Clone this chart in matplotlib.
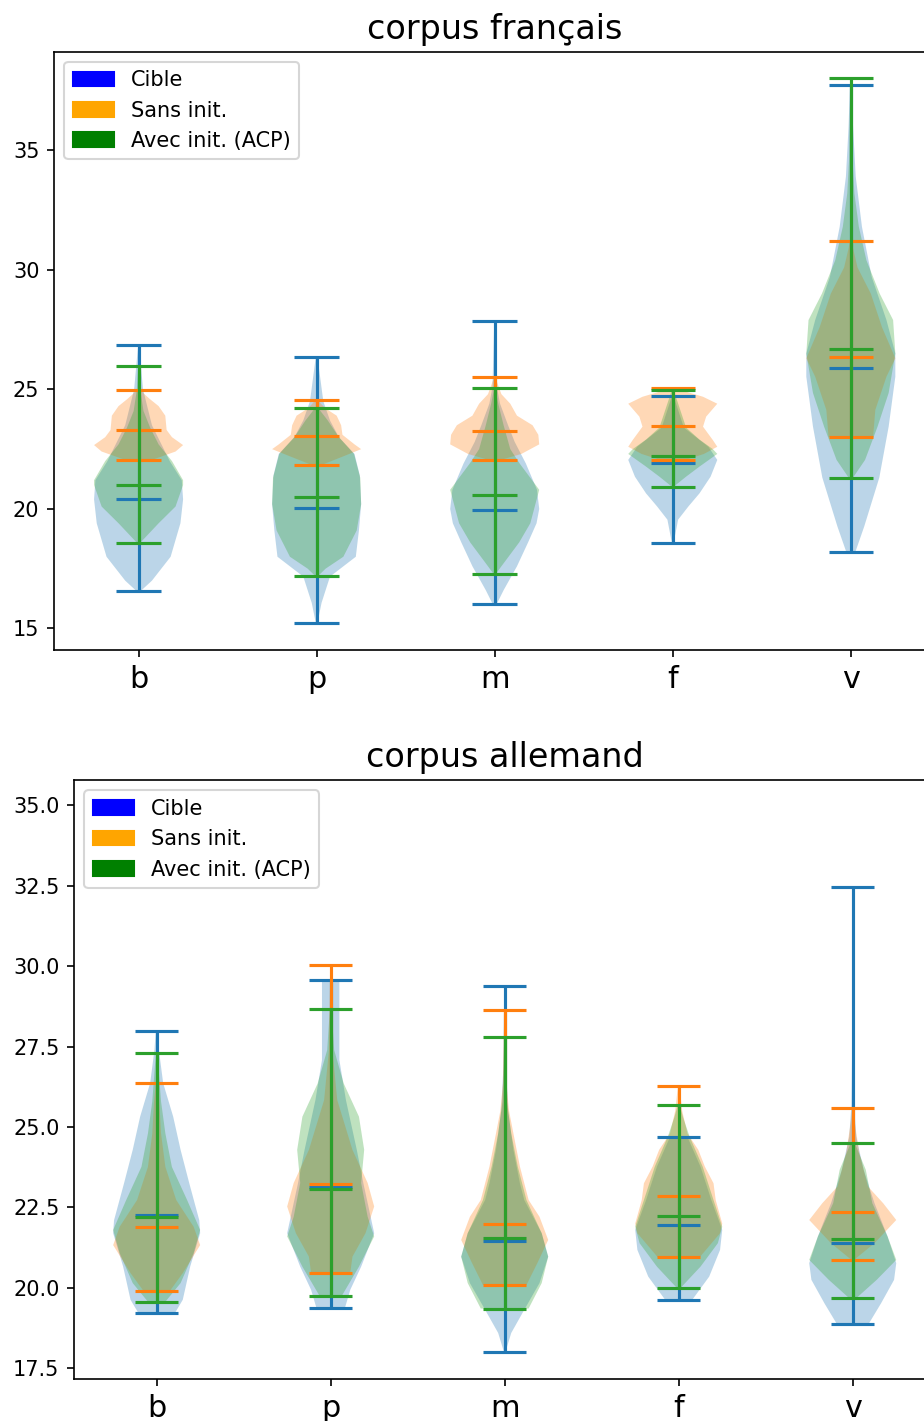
import numpy as np
import matplotlib
matplotlib.use('Agg')
import matplotlib.pyplot as plt
from matplotlib.patches import Patch

letters = ['b', 'p', 'm', 'f', 'v']
labels = ['Cible', 'Sans init.', 'Avec init. (ACP)']
legend_colors = ['blue', 'orange', 'green']

# density profiles: (value, relative half-width)
# first point = minimum, last point = maximum
fr_cible = [
    [(16.57, 0.05), (17.0, 0.3), (18.0, 0.72), (19.4, 0.94), (20.4, 1.0), (21.2, 0.97), (22.0, 0.7), (23.5, 0.3), (25.0, 0.1), (26.85, 0.01)],
    [(15.24, 0.02), (16.07, 0.11), (17.17, 0.3), (18.0, 0.88), (19.1, 0.95), (20.2, 1.0), (21.4, 0.97), (22.3, 0.85), (23.0, 0.5), (23.7, 0.3), (24.5, 0.15), (26.34, 0.02)],
    [(16.04, 0.05), (16.6, 0.2), (17.6, 0.5), (18.6, 0.75), (19.4, 0.94), (20.0, 1.0), (20.8, 0.95), (21.9, 0.7), (22.8, 0.45), (23.5, 0.3), (24.4, 0.12), (25.1, 0.05), (27.87, 0.01)],
    [(18.58, 0.02), (19.55, 0.12), (20.1, 0.35), (20.65, 0.6), (21.35, 0.85), (22.05, 1.0), (22.6, 0.8), (23.4, 0.25), (24.71, 0.02)],
    [(18.19, 0.1), (19.26, 0.3), (21.31, 0.64), (23.44, 0.85), (25.53, 1.0), (26.5, 1.0), (27.9, 0.8), (29.7, 0.47), (31.8, 0.25), (33.9, 0.11), (36.0, 0.05), (37.72, 0.02)],
]
fr_sans = [
    [(22.05, 0.3), (22.4, 0.83), (22.67, 1.0), (23.0, 0.75), (23.3, 0.63), (23.9, 0.6), (24.3, 0.45), (24.6, 0.25), (24.97, 0.03)],
    [(21.83, 0.1), (22.2, 0.6), (22.5, 1.0), (22.7, 0.85), (23.1, 0.58), (23.5, 0.55), (23.9, 0.45), (24.2, 0.2), (24.55, 0.02)],
    [(22.03, 0.1), (22.3, 0.6), (22.7, 1.0), (23.1, 0.98), (23.5, 0.85), (23.9, 0.5), (24.4, 0.35), (24.8, 0.15), (25.52, 0.01)],
    [(22.06, 0.3), (22.3, 0.7), (22.6, 1.0), (22.88, 0.9), (23.44, 0.68), (23.86, 0.75), (24.4, 1.0), (24.69, 0.68), (25.04, 0.05)],
    [(23.01, 0.5), (24.14, 0.55), (25.53, 0.8), (26.3, 1.0), (27.6, 0.7), (29.0, 0.45), (30.1, 0.15), (30.9, 0.05), (31.2, 0.02)],
]
fr_avec = [
    [(18.57, 0.03), (19.4, 0.45), (20.1, 0.83), (21.0, 1.0), (21.2, 1.0), (22.0, 0.75), (22.7, 0.45), (23.4, 0.26), (24.1, 0.11), (24.97, 0.04), (25.98, 0.01)],
    [(17.19, 0.03), (17.5, 0.2), (18.0, 0.6), (19.1, 0.9), (20.2, 1.0), (21.3, 0.98), (22.3, 0.84), (23.0, 0.5), (23.7, 0.25), (24.23, 0.03)],
    [(17.27, 0.02), (17.6, 0.15), (18.6, 0.55), (19.4, 0.8), (20.8, 1.0), (21.9, 0.56), (22.5, 0.35), (23.5, 0.2), (24.4, 0.08), (25.06, 0.01)],
    [(20.93, 0.02), (21.35, 0.3), (21.77, 0.6), (22.3, 1.0), (22.5, 0.9), (22.9, 0.6), (23.4, 0.3), (24.97, 0.02)],
    [(21.31, 0.05), (22.05, 0.32), (23.44, 0.6), (24.85, 0.85), (26.5, 1.0), (27.9, 0.95), (29.0, 0.65), (30.4, 0.35), (31.8, 0.18), (33.2, 0.08), (34.6, 0.04), (38.01, 0.01)],
]
fr_centers = [
    [20.4, 20.04, 19.95, 21.93, 25.89],
    [23.29, 23.06, 23.25, 23.47, 26.35],
    [21.0, 20.49, 20.57, 22.21, 26.67],
]

de_cible = [
    [(19.22, 0.42), (19.63, 0.6), (20.66, 0.77), (21.7, 1.0), (22.1, 0.98), (23.25, 0.75), (24.29, 0.55), (25.32, 0.38), (26.36, 0.15), (27.4, 0.05), (27.99, 0.02)],
    [(19.39, 0.33), (19.94, 0.45), (20.66, 0.7), (21.7, 1.0), (23.26, 0.75), (24.29, 0.6), (25.84, 0.35), (27.08, 0.2), (28.43, 0.2), (29.57, 0.2)],
    [(18.02, 0.02), (18.6, 0.15), (19.32, 0.45), (20.15, 0.8), (20.97, 1.0), (21.7, 0.85), (22.73, 0.45), (23.25, 0.35), (24.29, 0.2), (25.5, 0.08), (26.87, 0.03), (29.37, 0.01)],
    [(19.61, 0.3), (20.35, 0.7), (21.18, 0.95), (21.8, 1.0), (22.73, 0.75), (23.77, 0.5), (24.69, 0.2)],
    [(18.89, 0.37), (19.52, 0.65), (20.25, 0.95), (20.77, 1.0), (21.6, 0.8), (22.63, 0.5), (23.67, 0.25), (24.7, 0.08), (25.7, 0.03), (27.8, 0.01), (32.46, 0.005)],
]
de_sans = [
    [(19.9, 0.3), (20.46, 0.6), (21.33, 1.0), (21.9, 0.85), (22.73, 0.45), (23.76, 0.2), (24.8, 0.1), (25.8, 0.06), (26.36, 0.02)],
    [(20.47, 0.45), (20.97, 0.5), (21.7, 0.8), (22.53, 1.0), (23.26, 0.85), (24.29, 0.5), (25.84, 0.15), (27.39, 0.04), (30.03, 0.01)],
    [(20.09, 0.5), (20.77, 0.75), (21.49, 1.0), (22.21, 0.8), (22.73, 0.55), (23.77, 0.35), (24.8, 0.2), (25.5, 0.1), (26.35, 0.04), (28.64, 0.01)],
    [(20.95, 0.48), (21.7, 0.95), (22.0, 1.0), (22.73, 0.85), (23.25, 0.8), (23.77, 0.6), (24.29, 0.45), (24.8, 0.2), (25.5, 0.08), (26.26, 0.02)],
    [(20.86, 0.02), (21.39, 0.5), (22.11, 1.0), (22.63, 0.7), (23.15, 0.35), (24.19, 0.15), (25.11, 0.05), (25.6, 0.01)],
]
de_avec = [
    [(19.57, 0.2), (20.15, 0.55), (21.08, 0.85), (21.8, 1.0), (22.73, 0.7), (23.76, 0.35), (24.8, 0.2), (25.8, 0.1), (26.9, 0.04), (27.31, 0.01)],
    [(19.74, 0.25), (20.66, 0.65), (21.6, 1.0), (22.21, 0.85), (23.26, 0.7), (24.29, 0.77), (25.32, 0.65), (26.35, 0.3), (27.39, 0.08), (28.66, 0.02)],
    [(19.36, 0.55), (20.15, 0.85), (20.97, 1.0), (21.7, 0.85), (22.73, 0.5), (23.77, 0.3), (24.8, 0.15), (25.8, 0.05), (27.79, 0.01)],
    [(20.01, 0.05), (20.66, 0.5), (21.39, 0.9), (21.9, 1.0), (22.73, 0.8), (23.77, 0.55), (24.7, 0.25), (25.3, 0.1), (25.69, 0.02)],
    [(19.68, 0.08), (20.25, 0.55), (20.87, 1.0), (21.6, 0.8), (22.63, 0.45), (23.67, 0.3), (24.49, 0.05)],
]
de_centers = [
    [22.28, 23.15, 21.46, 21.96, 21.41],
    [21.90, 23.24, 21.98, 22.87, 22.35],
    [22.20, 23.08, 21.54, 22.23, 21.51],
]


def make_stats(profiles, centers):
    stats = []
    for prof, c in zip(profiles, centers):
        prof = np.array(prof)
        stats.append({'coords': prof[:, 0], 'vals': prof[:, 1],
                      'mean': c, 'median': c,
                      'min': prof[0, 0], 'max': prof[-1, 0]})
    return stats


def draw(ax, groups, centers, title, ylim):
    pos = np.arange(1, len(letters) + 1)
    for profiles, cen in zip(groups, centers):
        parts = ax.violin(make_stats(profiles, cen), positions=pos, widths=0.5,
                          showmeans=False, showmedians=True, showextrema=True)
        for key in ['cmaxes', 'cmins', 'cbars', 'cmedians']:
            parts[key].set_linewidth(1.5)
    ax.set_xticks(pos)
    ax.set_xticklabels(letters, fontsize=14.5)
    ax.set_ylim(*ylim)
    ax.set_title(title, fontsize=16)
    handles = [Patch(color=c) for c in legend_colors]
    ax.legend(handles, labels, loc='upper left')


fig = plt.figure(figsize=(924 / 150, 1421 / 150), dpi=150)
ax1 = fig.add_axes([54 / 924, 771 / 1421, 881.4 / 924, 598.5 / 1421])
ax2 = fig.add_axes([74 / 924, 42 / 1421, 861.4 / 924, 599 / 1421])

draw(ax1, [fr_cible, fr_sans, fr_avec], fr_centers, 'corpus français', (14.1, 39.13))
draw(ax2, [de_cible, de_sans, de_avec], de_centers, 'corpus allemand', (17.17, 35.78))

fig.savefig('out.png', dpi=150)
